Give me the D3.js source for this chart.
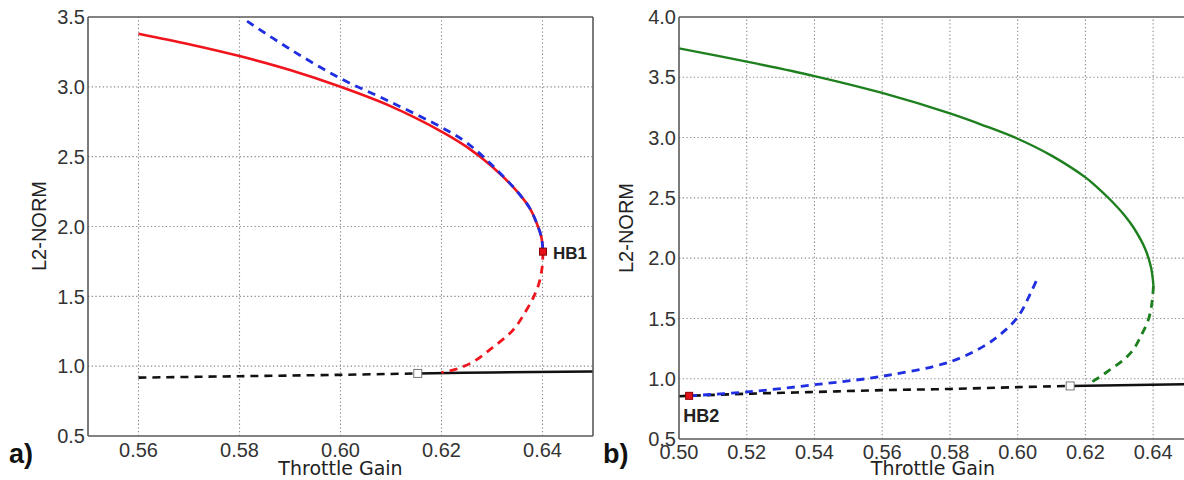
<!DOCTYPE html>
<html>
<head>
<meta charset="utf-8">
<script src="https://cdn.jsdelivr.net/npm/d3@7"></script>
<style>
  body { margin: 0; background: #fff; }
  svg { display: block; }
  .tick-label { font-family: "Liberation Sans", Arial, sans-serif; font-size: 20px; fill: #333; }
  .axis-title { font-family: "Liberation Sans", Arial, sans-serif; font-size: 20px; fill: #222; }
  .x-title { font-family: "DejaVu Sans", sans-serif; font-size: 19px; fill: #222; }
  .panel-tag { font-family: "Liberation Sans", Arial, sans-serif; font-size: 27px; font-weight: bold; fill: #111; }
  .hb-label { font-family: "Liberation Sans", Arial, sans-serif; font-weight: bold; fill: #222; }
</style>
</head>
<body>
<svg id="chart" width="1184" height="480"></svg>
<script>
// ---------- Panel a) data ----------
const aXTicks = [0.56, 0.58, 0.60, 0.62, 0.64];
const aYTicks = [0.5, 1.0, 1.5, 2.0, 2.5, 3.0, 3.5];
const aRedSolid = [
  [0.560, 3.38], [0.570, 3.305], [0.580, 3.22], [0.590, 3.12], [0.600, 3.00],
  [0.610, 2.86], [0.620, 2.68], [0.625, 2.57], [0.630, 2.43], [0.635, 2.25],
  [0.6375, 2.13], [0.639, 2.01], [0.6398, 1.92], [0.6401, 1.82]
];
const aBlueDashed = [
  [0.5815, 3.47], [0.590, 3.27], [0.600, 3.06], [0.610, 2.89], [0.620, 2.71],
  [0.625, 2.60], [0.630, 2.44], [0.635, 2.25], [0.6375, 2.13], [0.639, 2.01],
  [0.6398, 1.92], [0.6401, 1.82]
];
const aRedDashed = [
  [0.6401, 1.82], [0.6399, 1.70], [0.6392, 1.58], [0.6383, 1.50], [0.6368, 1.40],
  [0.6342, 1.26], [0.6300, 1.13], [0.6262, 1.03], [0.6230, 0.98], [0.6200, 0.955]
];
const aBlackDashed = [[0.560, 0.918], [0.580, 0.928], [0.600, 0.938], [0.6153, 0.948]];
const aBlackSolid = [[0.6153, 0.948], [0.630, 0.955], [0.650, 0.962]];
const aHB1 = [0.6401, 1.82];
const aSquare = [0.6153, 0.948];

// ---------- Panel b) data ----------
const bXTicks = [0.50, 0.52, 0.54, 0.56, 0.58, 0.60, 0.62, 0.64];
const bYTicks = [0.5, 1.0, 1.5, 2.0, 2.5, 3.0, 3.5, 4.0];
const bGreenSolid = [
  [0.500, 3.74], [0.520, 3.63], [0.540, 3.51], [0.560, 3.37], [0.580, 3.20],
  [0.590, 3.10], [0.600, 2.99], [0.610, 2.85], [0.620, 2.67], [0.623, 2.60],
  [0.6275, 2.48], [0.6317, 2.35], [0.6343, 2.25], [0.6376, 2.08],
  [0.6394, 1.92], [0.6401, 1.77]
];
const bGreenDashed = [
  [0.6401, 1.77], [0.6396, 1.62], [0.6386, 1.49], [0.6365, 1.36], [0.6341, 1.24],
  [0.6310, 1.15], [0.6273, 1.075], [0.6240, 1.01], [0.6205, 0.95]
];
const bBlueDashed = [
  [0.503, 0.858], [0.520, 0.89], [0.540, 0.95], [0.560, 1.02], [0.580, 1.14],
  [0.590, 1.27], [0.595, 1.37], [0.600, 1.51], [0.604, 1.72], [0.6061, 1.85]
];
const bBlackDashed = [
  [0.500, 0.855], [0.520, 0.875], [0.540, 0.89], [0.560, 0.905], [0.580, 0.915],
  [0.600, 0.93], [0.6155, 0.94]
];
const bBlackSolid = [[0.6155, 0.94], [0.650, 0.955]];
const bHB2 = [0.503, 0.858];
const bSquare = [0.6155, 0.94];

const svg = d3.select("#chart");

function panel(cfg) {
  const x = d3.scaleLinear().domain(cfg.xDomain).range(cfg.xRange);
  const y = d3.scaleLinear().domain(cfg.yDomain).range(cfg.yRange);
  const g = svg.append("g");
  const [x0, x1] = cfg.xRange, [y0, y1] = cfg.yRange; // y0 bottom, y1 top

  // grid
  g.append("g").selectAll("line").data(cfg.xTicks.filter(t => x(t) > x0 + 2 && x(t) < x1 - 2))
    .join("line")
    .attr("x1", d => x(d)).attr("x2", d => x(d)).attr("y1", y0).attr("y2", y1)
    .attr("stroke", "#8a8a8a").attr("stroke-width", 1.1).attr("stroke-dasharray", "1.3,2.4");
  g.append("g").selectAll("line").data(cfg.yTicks.filter(t => y(t) < y0 - 2 && y(t) > y1 + 2))
    .join("line")
    .attr("x1", x0).attr("x2", x1).attr("y1", d => y(d)).attr("y2", d => y(d))
    .attr("stroke", "#8a8a8a").attr("stroke-width", 1.1).attr("stroke-dasharray", "1.3,2.4");

  // clip
  const clipId = "clip" + cfg.id;
  svg.append("clipPath").attr("id", clipId).append("rect")
    .attr("x", x0).attr("y", y1).attr("width", x1 - x0).attr("height", y0 - y1);
  const plot = g.append("g").attr("clip-path", `url(#${clipId})`);

  const line = d3.line().x(d => x(d[0])).y(d => y(d[1])).curve(d3.curveCatmullRom.alpha(0.5));
  cfg.series.forEach(s => {
    plot.append("path").datum(s.data)
      .attr("d", line).attr("fill", "none")
      .attr("stroke", s.color).attr("stroke-width", s.width)
      .attr("stroke-dasharray", s.dash || null)
      .attr("stroke-linecap", "butt");
  });

  // frame
  const frame = g.append("g").attr("stroke", "#5a5a5a").attr("stroke-width", 1.6).attr("fill", "none");
  frame.append("line").attr("x1", x0).attr("x2", x1).attr("y1", y1).attr("y2", y1);
  frame.append("line").attr("x1", x0).attr("x2", x1).attr("y1", y0).attr("y2", y0);
  frame.append("line").attr("x1", x0).attr("x2", x0).attr("y1", y1).attr("y2", y0);
  if (cfg.rightBorder) frame.append("line").attr("x1", x1).attr("x2", x1).attr("y1", y1).attr("y2", y0);

  // markers
  cfg.markers.forEach(m => {
    g.append("rect")
      .attr("x", x(m.p[0]) - m.s / 2).attr("y", y(m.p[1]) - m.s / 2)
      .attr("width", m.s).attr("height", m.s)
      .attr("fill", m.fill).attr("stroke", m.stroke).attr("stroke-width", 1);
  });

  // tick labels
  g.append("g").selectAll("text").data(cfg.xTicks).join("text")
    .attr("class", "tick-label").attr("x", d => x(d)).attr("y", y0 + cfg.xLabelDy)
    .attr("text-anchor", "middle").text(d => d.toFixed(2));
  g.append("g").selectAll("text").data(cfg.yTicks).join("text")
    .attr("class", "tick-label").attr("x", x0 - 3).attr("y", d => y(d) + 7.2)
    .attr("text-anchor", "end").text(d => d.toFixed(1));

  // titles
  g.append("text").attr("class", "x-title")
    .attr("x", (x0 + x1) / 2).attr("y", 475).attr("text-anchor", "middle").text("Throttle Gain");
  g.append("text").attr("class", "axis-title")
    .attr("transform", `translate(${cfg.yTitleX},${cfg.yTitleY}) rotate(-90)`)
    .attr("text-anchor", "middle").text("L2-NORM");
  g.append("text").attr("class", "panel-tag").attr("x", cfg.tagX).attr("y", 463).text(cfg.tag);

  cfg.labels.forEach(l => {
    g.append("text").attr("class", "hb-label")
      .attr("x", x(l.p[0]) + l.dx).attr("y", y(l.p[1]) + l.dy)
      .attr("font-size", l.size).text(l.text);
  });
}

panel({
  id: "a",
  xDomain: [0.55, 0.65], xRange: [88, 593],
  yDomain: [0.5, 3.5], yRange: [436, 17],
  xTicks: aXTicks, yTicks: aYTicks,
  rightBorder: true, xLabelDy: 21,
  yTitleX: 46, yTitleY: 226, tagX: 9, tag: "a)",
  series: [
    { data: aBlackDashed, color: "#111", width: 2.6, dash: "8,6" },
    { data: aBlackSolid, color: "#111", width: 2.6 },
    { data: aRedDashed, color: "#f0141c", width: 2.8, dash: "8,6" },
    { data: aRedSolid, color: "#f0141c", width: 2.6 },
    { data: aBlueDashed, color: "#1f2ee0", width: 2.8, dash: "8,6" }
  ],
  markers: [
    { p: aHB1, s: 7, fill: "#e3121a", stroke: "#8a0000" },
    { p: aSquare, s: 8, fill: "#fff", stroke: "#777" }
  ],
  labels: [{ p: aHB1, dx: 10, dy: 7, text: "HB1", size: 17 }]
});

panel({
  id: "b",
  xDomain: [0.50, 0.65], xRange: [679, 1187],
  yDomain: [0.5, 4.0], yRange: [439, 17],
  xTicks: bXTicks, yTicks: bYTicks,
  rightBorder: false, xLabelDy: 20,
  yTitleX: 633, yTitleY: 228, tagX: 603, tag: "b)",
  series: [
    { data: bBlackDashed, color: "#111", width: 2.6, dash: "8,6" },
    { data: bBlackSolid, color: "#111", width: 2.6 },
    { data: bGreenDashed, color: "#1e7f1e", width: 2.8, dash: "8,6" },
    { data: bGreenSolid, color: "#1e7f1e", width: 2.4 },
    { data: bBlueDashed, color: "#1f2ee0", width: 2.8, dash: "8,6" }
  ],
  markers: [
    { p: bHB2, s: 7, fill: "#e3121a", stroke: "#8a0000" },
    { p: bSquare, s: 8, fill: "#fff", stroke: "#777" }
  ],
  labels: [{ p: bHB2, dx: -6, dy: 26, text: "HB2", size: 18 }]
});
</script>
</body>
</html>
